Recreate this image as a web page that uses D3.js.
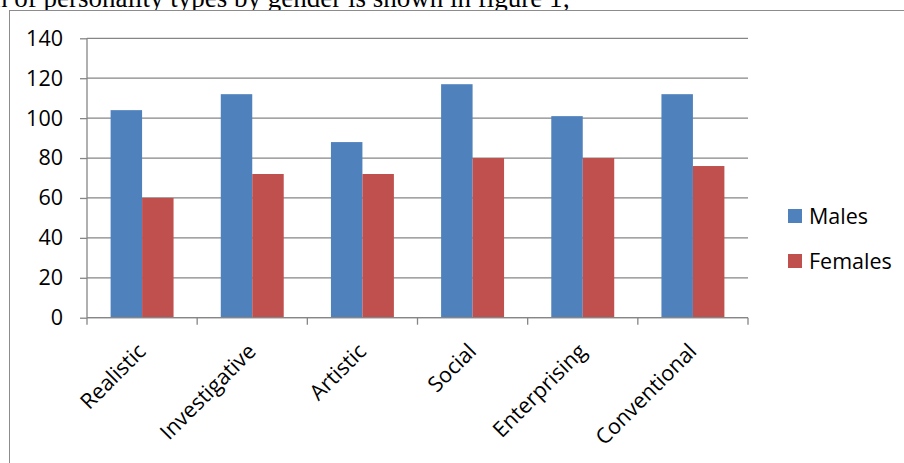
<!DOCTYPE html>
<html>
<head>
<meta charset="utf-8">
<script src="https://d3js.org/d3.v7.min.js"></script>
<style>
  body { margin: 0; background: #fff; }
  svg { display: block; }
</style>
</head>
<body>
<div id="my_dataviz"></div>
<script>

    // data
    var categories = ["Realistic", "Investigative", "Artistic", "Social", "Enterprising", "Conventional"];
    var males = [104, 112, 88, 117, 101, 112];
    var females = [60, 72, 72, 80, 80, 76];
    var seriesNames = ["Males", "Females"];
    var yTicks = [0, 20, 40, 60, 80, 100, 120, 140];

    var colors = ["#4F81BD", "#C0504D"];
    var font = "'Open Sans', 'Noto Sans', sans-serif";
    var fontSize = "21.5px";

    var W = 904, H = 463;
    var plot = { left: 87, right: 748, top: 38.3, bottom: 317.7 };

    var svg = d3.select("#my_dataviz")
        .append("svg")
        .attr("width", W)
        .attr("height", H);

    // bit of the document text above the chart, cut off
    svg.append("text")
        .attr("x", -6)
        .attr("y", 7)
        .style("font-family", "'Liberation Serif', 'Times New Roman', serif")
        .style("font-size", "27px")
        .attr("fill", "#000")
        .text("n of personality types by gender is shown in figure 1;");

    // chart frame
    svg.append("rect")
        .attr("x", 9.5)
        .attr("y", 10.5)
        .attr("width", W)
        .attr("height", H)
        .attr("fill", "#fff")
        .attr("stroke", "#8c8c8c")
        .attr("stroke-width", 1);

    // scales
    var x = d3.scaleBand()
        .domain(categories)
        .range([plot.left, plot.right])
        .paddingInner(0)
        .paddingOuter(0);

    var x1 = d3.scaleBand()
        .domain(seriesNames)
        .range([0, x.bandwidth()])
        .paddingInner(0)
        .paddingOuter(0.75);

    var y = d3.scaleLinear()
        .domain([0, 140])
        .range([plot.bottom, plot.top]);

    // y axis ticks + labels
    var yAxis = svg.append("g")
        .attr("transform", "translate(" + plot.left + ",0)")
        .call(d3.axisLeft(y)
            .tickValues(yTicks)
            .tickSize(7)
            .tickPadding(17));
    yAxis.select(".domain").remove();
    yAxis.selectAll("line").attr("stroke", "#868686").attr("stroke-width", 1.3);
    yAxis.selectAll("text")
        .style("font-family", font)
        .style("font-size", fontSize)
        .attr("fill", "#000");

    // gridlines
    svg.append("g")
        .selectAll("line")
        .data(yTicks)
        .enter()
        .append("line")
        .attr("x1", plot.left)
        .attr("x2", plot.right)
        .attr("y1", function (d) { return y(d); })
        .attr("y2", function (d) { return y(d); })
        .attr("stroke", "#868686")
        .attr("stroke-width", 1.3);

    svg.append("line")
        .attr("x1", plot.left)
        .attr("x2", plot.left)
        .attr("y1", plot.top)
        .attr("y2", plot.bottom)
        .attr("stroke", "#868686")
        .attr("stroke-width", 1.3);

    // bars
    var rows = categories.map(function (c, i) {
        return { cat: c, values: [males[i], females[i]] };
    });

    var groups = svg.append("g")
        .selectAll("g")
        .data(rows)
        .enter()
        .append("g")
        .attr("transform", function (d) { return "translate(" + x(d.cat) + ",0)"; });

    groups.selectAll("rect")
        .data(function (d) {
            return d.values.map(function (v, j) { return { name: seriesNames[j], value: v, j: j }; });
        })
        .enter()
        .append("rect")
        .attr("x", function (d) { return x1(d.name); })
        .attr("y", function (d) { return y(d.value); })
        .attr("width", x1.bandwidth())
        .attr("height", function (d) { return y(0) - y(d.value); })
        .attr("fill", function (d) { return colors[d.j]; });

    // x axis with category boundary ticks
    var xAxisG = svg.append("g");
    xAxisG.append("line")
        .attr("x1", plot.left)
        .attr("x2", plot.right)
        .attr("y1", y(0))
        .attr("y2", y(0))
        .attr("stroke", "#868686")
        .attr("stroke-width", 1.3);

    var boundaries = categories.map(function (c) { return x(c); }).concat([plot.right]);
    xAxisG.selectAll(".xt")
        .data(boundaries)
        .enter()
        .append("line")
        .attr("x1", function (d) { return d; })
        .attr("x2", function (d) { return d; })
        .attr("y1", y(0))
        .attr("y2", y(0) + 7)
        .attr("stroke", "#868686")
        .attr("stroke-width", 1.3);

    xAxisG.selectAll(".xl")
        .data(categories)
        .enter()
        .append("text")
        .attr("transform", function (d) {
            return "translate(" + (x(d) + x.bandwidth() / 2 + 5) + "," + (y(0) + 35) + ") rotate(-45)";
        })
        .attr("text-anchor", "end")
        .style("font-family", font)
        .style("font-size", fontSize)
        .attr("fill", "#000")
        .text(function (d) { return d; });

    // legend
    var legend = svg.append("g")
        .selectAll("g")
        .data(seriesNames)
        .enter()
        .append("g")
        .attr("transform", function (d, i) { return "translate(788," + (209 + i * 45) + ")"; });

    legend.append("rect")
        .attr("width", 14)
        .attr("height", 14)
        .attr("fill", function (d, i) { return colors[i]; });

    legend.append("text")
        .attr("x", 21)
        .attr("y", 14.5)
        .style("font-family", font)
        .style("font-size", fontSize)
        .attr("fill", "#000")
        .text(function (d) { return d; });

</script>
</body>
</html>
